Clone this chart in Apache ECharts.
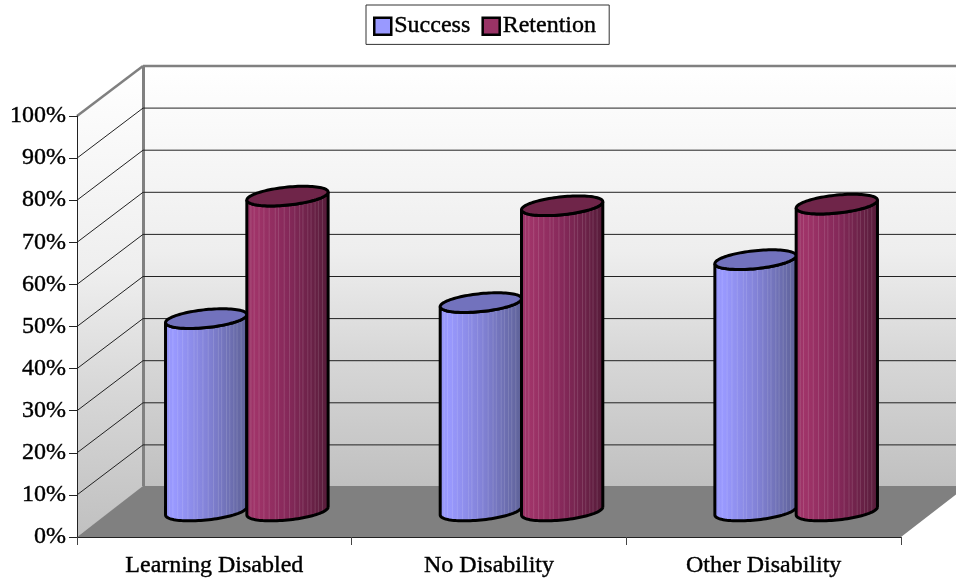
<!DOCTYPE html>
<html><head><meta charset="utf-8">
<style>html,body{margin:0;padding:0;background:#fff}#c{width:956px;height:582px}</style>
<script src="https://cdn.jsdelivr.net/npm/echarts@6/dist/echarts.min.js"></script>
</head><body><div id="c"></div>
<script>
const categories = ['Learning Disabled', 'No Disability', 'Other Disability'];
const successValues = [45.7, 49.5, 59.7];
const retentionValues = [74.8, 72.5, 72.9];
const gridTicks = [10, 20, 30, 40, 50, 60, 70, 80, 90];

const DX = 66, DY = -50;
const FONT = '"Liberation Serif", serif';
const TEXT = {fontFamily: FONT, fontSize: 24, color: '#000', textBorderColor: '#000', textBorderWidth: 0.4};
const chart = echarts.init(document.getElementById('c'), null, {renderer: 'canvas'});
const G = echarts.graphic;

function wallGrad() {
  return new G.LinearGradient(0, 0, 0, 1, [
    {offset: 0, color: '#ffffff'}, {offset: 0.44, color: '#eeeeee'},
    {offset: 0.68, color: '#d8d8d8'}, {offset: 1, color: '#c0c0c0'}]);
}
function renderBackdrop(p, api) {
  const o = api.coord([0, 0]), t = api.coord([0, 100]);
  const band = api.size([1, 0])[0];
  const x0 = o[0] - band / 2, x1 = x0 + band * categories.length;
  const y0 = o[1], y1 = t[1];
  const line = (a, b, c, d, s, w) => ({type: 'line', shape: {x1: a, y1: b, x2: c, y2: d},
    style: {stroke: s, lineWidth: w}});
  return {type: 'group', children: [
    {type: 'polygon', shape: {points: [[x0 + DX, y1 + DY], [x1 + DX, y1 + DY], [x1 + DX, y0 + DY], [x0 + DX, y0 + DY]]},
      style: {fill: wallGrad()}},
    {type: 'polygon', shape: {points: [[x0, y1], [x0 + DX, y1 + DY], [x0 + DX, y0 + DY], [x0, y0]]},
      style: {fill: wallGrad()}},
    {type: 'polygon', shape: {points: [[x0, y0], [x0 + DX, y0 + DY - 1], [x1 + DX, y0 + DY - 1], [x1, y0]]},
      style: {fill: '#808080'}},
    line(x0 + DX + 0.5, y1 + DY, x0 + DX + 0.5, y0 + DY - 1, '#808080', 3),
    line(x0 + DX, y1 + DY, x1 + DX, y1 + DY, '#808080', 2.5),
    line(x0, y1, x0 + DX, y1 + DY, '#808080', 2.5)
  ]};
}
function renderGridLine(p, api) {
  const o = api.coord([0, api.value(0)]);
  const band = api.size([1, 0])[0];
  const x0 = o[0] - band / 2, x1 = x0 + band * categories.length, y = o[1];
  const st = {stroke: '#222', lineWidth: 1};
  return {type: 'group', children: [
    {type: 'line', shape: {x1: x0, y1: y, x2: x0 + DX, y2: y + DY}, style: st},
    {type: 'line', shape: {x1: x0 + DX, y1: y + DY, x2: x1 + DX, y2: y + DY}, style: st}
  ]};
}
const stripes = [-0.9, -0.82, -0.7, -0.58, -0.45, -0.3, -0.22, -0.08, 0.05, 0.18, 0.3, 0.38, 0.5, 0.58, 0.68, 0.76, 0.86];
function makeCylinder(side, stops, topFill) {
  return function (p, api) {
    const cat = api.value(0), val = api.value(1);
    const base = api.coord([cat, 0]), top = api.coord([cat, val]);
    const band = api.size([1, 0])[0];
    const a = band * 0.148, b = 9, tilt = 4;
    const cx = base[0] + DX / 2 + side * a - 0.5;
    const yb = base[1] + DY / 2 - 1, yt = top[1] + DY / 2 - 1;
    const pt = (cy, th) => [cx + a * Math.cos(th), cy + b * Math.sin(th) - tilt * Math.cos(th)];
    const N = 48;
    const body = [];
    for (let i = 0; i <= N; i++) body.push(pt(yb, Math.PI * i / N));
    for (let i = N; i >= 0; i--) body.push(pt(yt, Math.PI * i / N));
    const ell = [];
    for (let i = 0; i < N * 2; i++) ell.push(pt(yt, Math.PI * i / N));
    const kids = [{type: 'polygon', shape: {points: body},
      style: {fill: new G.LinearGradient(0, 0, 1, 0, stops)}}];
    stripes.forEach(u => {
      const th = Math.acos(u), s = Math.sin(th), c = u;
      const x = cx + a * c;
      kids.push({type: 'line', shape: {x1: x, y1: yt + b * s - tilt * c, x2: x, y2: yb + b * s - tilt * c},
        style: {stroke: 'rgba(255,255,255,0.13)', lineWidth: 1}});
    });
    kids.push({type: 'polyline', shape: {points: body.concat([body[0]])},
      style: {fill: 'none', stroke: '#000', lineWidth: 3}});
    kids.push({type: 'polygon', shape: {points: ell},
      style: {fill: topFill, stroke: '#000', lineWidth: 3}});
    return {type: 'group', children: kids};
  };
}
const toPairs = arr => arr.map((v, i) => [i, v]);

chart.setOption({
  animation: false,
  backgroundColor: '#fff',
  grid: {left: 77, right: 55, top: 116, bottom: 45, containLabel: false},
  legend: {
    left: 366, top: 5, padding: [9, 13, 6, 7], itemGap: 11, itemWidth: 17, itemHeight: 17,
    backgroundColor: '#fff', borderColor: '#333', borderWidth: 1, borderRadius: 0,
    textStyle: Object.assign({}, TEXT, {padding: [0, 0, 0, -2]}),
    data: [
      {name: 'Success', icon: 'rect', itemStyle: {color: '#9999ff', borderColor: '#000', borderWidth: 2.5}},
      {name: 'Retention', icon: 'rect', itemStyle: {color: '#993366', borderColor: '#000', borderWidth: 2.5}}
    ]
  },
  xAxis: {
    type: 'category', data: categories, z: 10,
    axisLine: {lineStyle: {color: '#222', width: 1}},
    axisTick: {show: true, alignWithLabel: false, length: 8, lineStyle: {color: '#444'}},
    axisLabel: Object.assign({}, TEXT, {margin: 17, interval: 0}),
    splitLine: {show: false}
  },
  yAxis: {
    type: 'value', min: 0, max: 100, interval: 10, z: 10,
    axisLine: {show: true, lineStyle: {color: '#222', width: 1}},
    axisTick: {show: true, length: 8, lineStyle: {color: '#222'}},
    axisLabel: Object.assign({}, TEXT, {margin: 11, formatter: '{value}%'}),
    splitLine: {show: false}
  },
  series: [
    {type: 'custom', name: 'backdrop', z: 1, silent: true, renderItem: renderBackdrop, data: [[0]], encode: {x: 0}},
    {type: 'custom', name: 'gridlines', z: 2, silent: true, renderItem: renderGridLine,
      data: gridTicks.map(v => [v]), encode: {y: 0}},
    {type: 'custom', name: 'Success', z: 3, renderItem: makeCylinder(-1, [
      {offset: 0, color: '#9494f6'}, {offset: 0.1, color: '#9999ff'}, {offset: 0.5, color: '#8383d8'}, {offset: 1, color: '#5f6298'}], '#7272bd'),
      itemStyle: {color: '#9999ff'}, data: toPairs(successValues), encode: {x: 0, y: 1}},
    {type: 'custom', name: 'Retention', z: 4, renderItem: makeCylinder(1, [
      {offset: 0, color: '#993366'}, {offset: 0.1, color: '#a03469'}, {offset: 0.5, color: '#86295a'}, {offset: 1, color: '#571c3a'}], '#6f2549'),
      itemStyle: {color: '#993366'}, data: toPairs(retentionValues), encode: {x: 0, y: 1}}
  ]
});
</script></body></html>
